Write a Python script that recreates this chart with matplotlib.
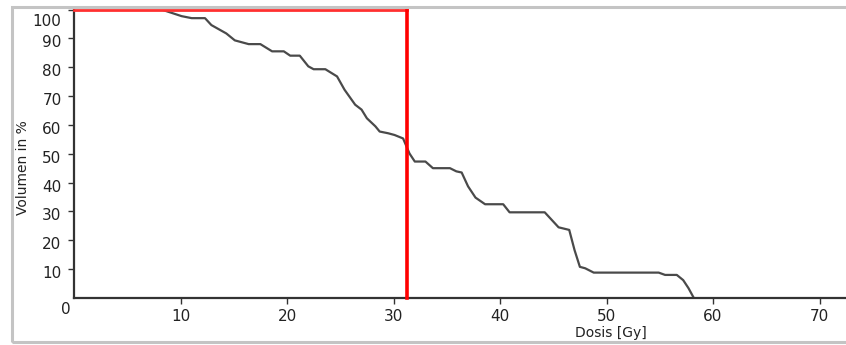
import matplotlib
matplotlib.use("Agg")
import matplotlib.pyplot as plt
import matplotlib.transforms as mtransforms
from matplotlib.patches import Rectangle

# Dosis-Volumen-Histogramm
dose = [0, 8.2, 10.1, 11.05, 12.3, 12.9, 14.3, 15.1, 16.4, 17.5, 18.6, 19.7, 20.3, 21.2,
        22.0, 22.5, 23.6, 24.7, 25.4, 26.4, 27.0, 27.5, 28.3, 28.7, 29.5, 30.1, 30.9,
        31.5, 32.0, 33.0, 33.7, 35.3, 35.9, 36.4, 37.0, 37.7, 38.6, 40.3, 40.9, 44.2,
        45.0, 45.5, 46.5, 47.0, 47.5, 48.0, 48.8, 54.9, 55.5, 56.6, 57.2, 57.7, 58.2]
volume = [100, 100, 97.7, 97.0, 97.0, 94.6, 91.7, 89.3, 88.0, 88.0, 85.5, 85.5, 84.0, 84.0,
          80.3, 79.3, 79.3, 76.8, 72.2, 67.0, 65.3, 62.3, 59.5, 57.7, 57.1, 56.5, 55.3,
          50.1, 47.3, 47.3, 45.0, 45.0, 43.9, 43.5, 38.7, 34.8, 32.5, 32.5, 29.7, 29.7,
          26.5, 24.5, 23.6, 16.6, 10.8, 10.3, 8.8, 8.8, 8.0, 8.0, 6.2, 3.4, 0.0]
marker_dose = 31.3
x_ticks = [10, 20, 30, 40, 50, 60, 70]
y_ticks = [10, 20, 30, 40, 50, 60, 70, 80, 90, 100]

W, H = 846, 345
fig = plt.figure(figsize=(W / 100, H / 100), dpi=100)
fig.patch.set_facecolor("white")

# grauer Rahmen
fig.patches.append(Rectangle((12 / W, 3 / H), 1.0, (342 - 7) / H,
                             transform=fig.transFigure, fill=False,
                             edgecolor="#c4c4c4", linewidth=2.2))

left, top, bottom = 74, 9.5, 298
ax = fig.add_axes([left / W, (H - bottom) / H, (W - left) / W, (bottom - top) / H])
ax.set_xlim(0, (W - left) / 10.65)
ax.set_ylim(0, 100)

ax.plot(dose, volume, color="#4a4a4a", linewidth=1.6, zorder=2)
ax.plot([0, marker_dose], [100, 100], color="#ff3030", linewidth=2.0,
        clip_on=False, zorder=4)
ax.plot([marker_dose, marker_dose], [0, 100], color="#ff0000", linewidth=2.6,
        clip_on=False, zorder=4)

for s in ["top", "right"]:
    ax.spines[s].set_visible(False)
for s in ["left", "bottom"]:
    ax.spines[s].set_color("#333333")
    ax.spines[s].set_linewidth(1.6)

ax.set_xticks(x_ticks)
ax.set_yticks(y_ticks)
ax.tick_params(axis="both", direction="out", length=4, width=1, color="#333333",
               labelsize=11, labelcolor="#222222")
ax.tick_params(axis="x", pad=4)
ax.tick_params(axis="y", pad=5)

# y-Beschriftungen etwas tiefer, "100" passt in den Rahmen
fig.canvas.draw()
for lab in ax.get_yticklabels():
    dy = -10 if lab.get_text() == "100" else -3
    lab.set_transform(lab.get_transform() +
                      mtransforms.ScaledTranslation(0, dy / 100, fig.dpi_scale_trans))

ax.text(65.5 / W, (H - 309) / H, "0", transform=fig.transFigure, ha="center",
        va="center", fontsize=11, color="#222222")

ax.set_xlabel("Dosis [Gy]", fontsize=10, color="#222222")
ax.xaxis.set_label_coords((611 - left) / (W - left), -(333 - bottom) / (bottom - top))
ax.xaxis.label.set_va("center")
ax.set_ylabel("Volumen in %", fontsize=10, color="#222222")
ax.yaxis.set_label_coords(-(left - 23) / (W - left), (bottom - 168) / (bottom - top))
ax.yaxis.label.set_va("center")

fig.savefig("out.png", dpi=100)
